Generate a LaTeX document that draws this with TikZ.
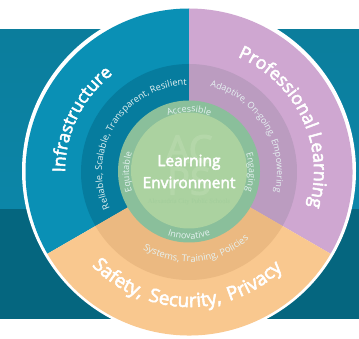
\documentclass[tikz,border=0pt]{standalone}
\usepackage{fontspec}
\setmainfont[BoldFont={Open Sans},BoldFeatures={FakeBold=3}]{Open Sans}
\newfontfamily\wmserif{Liberation Serif}
\usetikzlibrary{decorations.text}
\definecolor{bgtop}{HTML}{0B7D9C}
\definecolor{bgtopb}{HTML}{0C86A8}
\definecolor{bglow}{HTML}{05667F}
\definecolor{blueo}{HTML}{0A90B5}
\definecolor{bluem}{HTML}{067C9E}
\definecolor{purpo}{HTML}{CFA7D1}
\definecolor{purpm}{HTML}{BB9CC0}
\definecolor{orao}{HTML}{F9C88F}
\definecolor{oram}{HTML}{EBB981}
\definecolor{grno}{HTML}{8ABF9B}
\definecolor{grni}{HTML}{ABD2A0}
\definecolor{wm}{HTML}{B4D7A9}
\definecolor{wmt}{HTML}{A3CE9C}
\definecolor{lbl}{HTML}{E6F2F2}
\newcommand{\finfra}{\fontsize{17.5}{17}\selectfont\bfseries\color{white}}
\newcommand{\fprof}{\fontsize{18}{18}\selectfont\bfseries\color{white}}
\newcommand{\fsafe}{\fontsize{19}{18}\selectfont\bfseries\addfontfeature{LetterSpace=14}\color{white}}
\newcommand{\fmid}{\fontsize{9.2}{9}\selectfont\color{lbl}}
\newcommand{\fadapt}{\fontsize{9}{9}\selectfont\color{lbl}}
\newcommand{\fsys}{\fontsize{9.4}{9}\selectfont\color{lbl}}
\newcommand{\finner}{\fontsize{9}{9}\selectfont\color{lbl}}
\newcommand{\sect}[4]{\fill[#1] (C) -- ([shift={(C)}]#2:#4) arc[start angle=#2,end angle=#3,radius=#4] -- cycle;}
% radius, start, end, font command, text
\newcommand{\arctext}[5]{\path[decorate,decoration={text along path,text align=center,
  text={|#4|#5}}]
  ([shift={(C)}]#2:#1) arc[start angle=#2,end angle=#3,radius=#1];}
\begin{document}
\begin{tikzpicture}[x=1pt,y=1pt]
\useasboundingbox (0,-339) rectangle (359,0);
\coordinate (C) at (189,-172);
\fill[white] (0,-339) rectangle (359,0);
\shade[top color=bgtop,bottom color=bgtopb] (0,-209) rectangle (359,-30);
\fill[bglow] (0,-319) rectangle (359,-209);
\fill[white] (189,-171) circle[radius=167];
\sect{blueo}{90}{210}{163.5}
\sect{purpo}{-30}{90}{163.5}
\sect{orao}{210}{330}{163.5}
\sect{bluem}{90}{210}{108}
\sect{purpm}{-30}{90}{108}
\sect{oram}{210}{330}{108}
\fill[grno] (189,-171.5) circle[radius=71];
\fill[grni] (189,-170.5) circle[radius=58];
% watermark
\node[text=wm,font=\bfseries\fontsize{38}{32}\selectfont,align=center,inner sep=0] (wmark) at (189,-165) {AC\\PS};
\node[text=wmt,font=\wmserif\fontsize{6.5}{7}\selectfont,inner sep=0] (wmname) at (189,-201.5) {Alexandria City Public Schools};
% centre
\node[text=white,font=\fontsize{15.5}{22}\selectfont\bfseries,align=center,inner sep=0] (title) at (189,-171.5) {Learning\\Environment};
% outer labels
\arctext{124}{200}{108}{\finfra}{Infrastructure}
\arctext{125}{72}{-21}{\fprof}{Professional Learning}
\arctext{135}{205}{333}{\fsafe}{Safety, Security, Privacy}
% middle labels
\arctext{87}{210}{86}{\fmid}{Reliable, Scalable, Transparent, Resilient}
\arctext{88}{80}{-17}{\fadapt}{Adaptive, On-going, Empowering}
\arctext{90}{225}{326}{\fsys}{Systems, Training, Policies}
% inner labels
\arctext{60}{130}{50}{\finner}{Accessible}
\arctext{60}{220}{140}{\finner}{Equitable}
\arctext{60}{40}{-40}{\finner}{Engaging}
\arctext{67}{230}{310}{\finner}{Innovative}
\end{tikzpicture}
\end{document}
